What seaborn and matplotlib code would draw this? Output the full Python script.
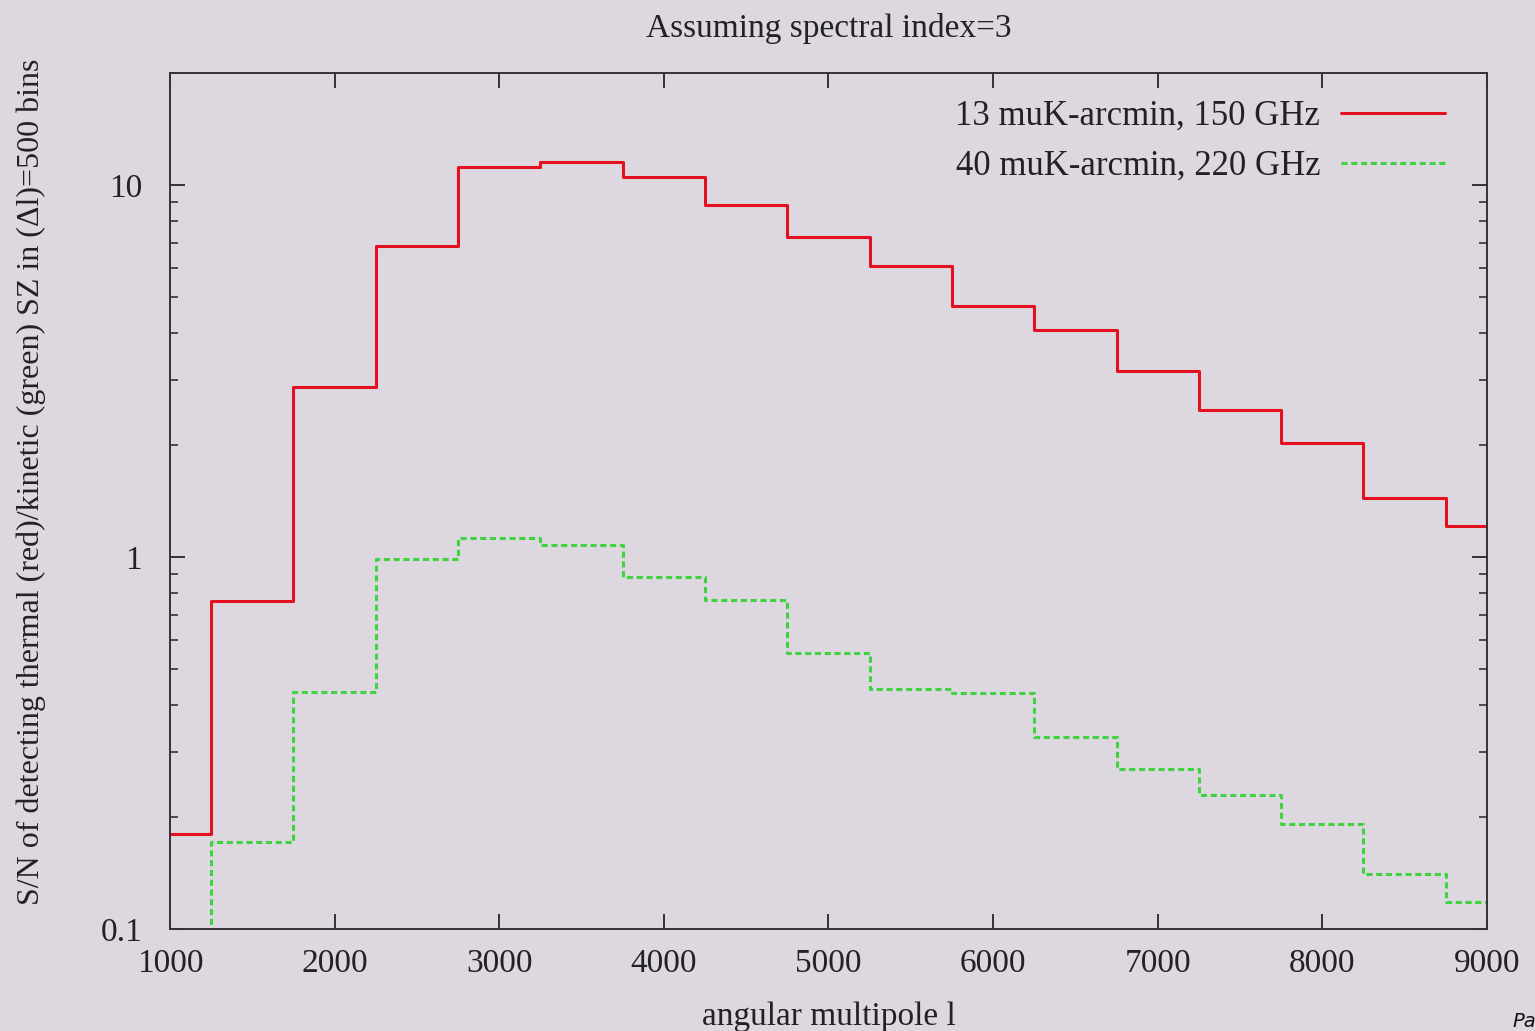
import numpy as np
import pandas as pd
import matplotlib
matplotlib.use("Agg")
import matplotlib.pyplot as plt
import seaborn as sns
from matplotlib.ticker import LogLocator, FixedLocator, NullFormatter

# ---- data ----
multipole = [1000, 1500, 2000, 2500, 3000, 3500, 4000, 4500, 5000,
             5500, 6000, 6500, 7000, 7500, 8000, 8500, 9000]
thermal_150 = [0.18, 0.76, 2.87, 6.87, 11.2, 11.5, 10.5, 8.86, 7.26,
               6.07, 4.74, 4.08, 3.17, 2.49, 2.03, 1.44, 1.21]
kinetic_220 = [0.05, 0.171, 0.433, 0.99, 1.125, 1.077, 0.883, 0.766, 0.552,
               0.441, 0.43, 0.328, 0.269, 0.229, 0.191, 0.141, 0.118]
label_red = "13 muK-arcmin, 150 GHz"
label_green = "40 muK-arcmin, 220 GHz"
x_ticks = [1000, 2000, 3000, 4000, 5000, 6000, 7000, 8000, 9000]
y_ticks = [0.1, 1, 10]
y_ticklabels = ["0.1", "1", "10"]

bg = "#ddd7e0"
sns.set_theme(style="ticks")
plt.rcParams['font.family'] = ['Liberation Serif', 'DejaVu Serif']

fig = plt.figure(figsize=(15.35, 10.31), dpi=100, facecolor=bg)
ax = fig.add_axes([0.1107, 0.0989, 0.858, 0.8303], facecolor=bg)

df = pd.DataFrame({"l": multipole, "red": thermal_150, "green": kinetic_220})
sns.lineplot(data=df, x="l", y="red", ax=ax, color="#e4101f", lw=2.2,
             drawstyle="steps-mid", label=label_red)
sns.lineplot(data=df, x="l", y="green", ax=ax, color="#3fd43f", lw=2.2,
             drawstyle="steps-mid", dashes=False, linestyle=(0, (2.0, 1.2)),
             label=label_green)

ax.set_yscale("log")
ax.set_xlim(1000, 9000)
ax.set_ylim(0.1, 20)

ax.xaxis.set_major_locator(FixedLocator(x_ticks))
ax.set_xticklabels([str(t) for t in x_ticks])
ax.yaxis.set_major_locator(FixedLocator(y_ticks))
ax.set_yticklabels(y_ticklabels)
ax.yaxis.set_minor_locator(LogLocator(base=10, subs=np.arange(2, 10)))
ax.yaxis.set_minor_formatter(NullFormatter())

ax.tick_params(axis="both", which="major", direction="in", length=11, width=1.4,
               color="#333333", labelsize=24, labelcolor="#222222",
               top=True, right=True)
ax.tick_params(axis="x", which="major", pad=14)
ax.tick_params(axis="y", which="major", pad=20)
ax.tick_params(axis="y", which="minor", direction="in", length=6, width=1.2,
               color="#333333", right=True, left=True)
for s in ax.spines.values():
    s.set_color("#333333")
    s.set_linewidth(1.4)

ax.set_xlabel("angular multipole l", fontsize=24, color="#222222", labelpad=16)
ax.set_ylabel("S/N of detecting thermal (red)/kinetic (green) SZ in (\u0394l)=500 bins",
              fontsize=23, color="#222222")
ax.yaxis.set_label_coords(-0.094, 0.522)
ax.set_title("Assuming spectral index=3", fontsize=24, color="#222222", pad=26)

leg = ax.legend(loc="upper right", bbox_to_anchor=(1.0, 1.0175), frameon=False,
                markerfirst=False, fontsize=25, handlelength=3.0, labelspacing=0.5,
                borderaxespad=0.8, handletextpad=0.6)
for t in leg.get_texts():
    t.set_color("#222222")

fig.text(0.985, 0.0, "Pa", fontsize=14, style="italic", family="DejaVu Sans",
         color="#111111", va="bottom", ha="left")

fig.savefig("out.png", dpi=100, facecolor=bg)
